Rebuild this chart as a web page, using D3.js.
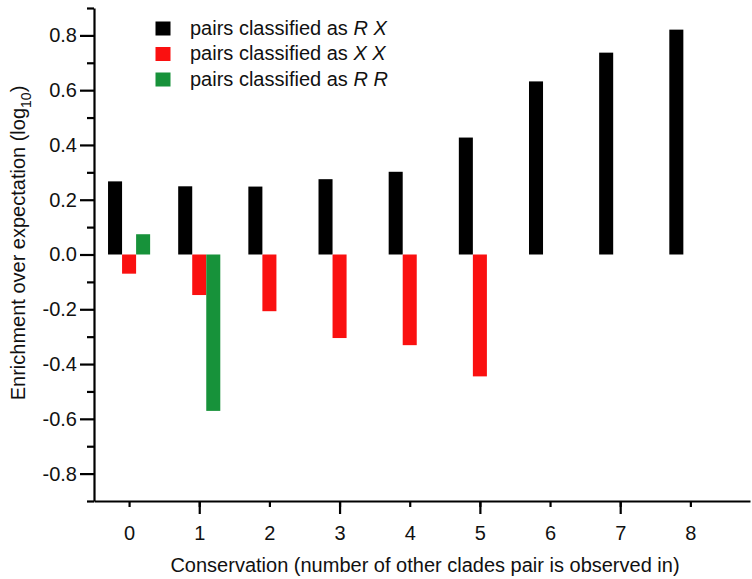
<!DOCTYPE html>
<html>
<head>
<meta charset="utf-8">
<script src="https://cdn.jsdelivr.net/npm/d3@7"></script>
<style>
  html, body { margin: 0; padding: 0; background: #fff; }
  svg { display: block; font-family: "Liberation Sans", Arial, sans-serif; }
</style>
</head>
<body>
<svg id="chart" width="752" height="579"></svg>
<script>
// Conservation level (number of other clades in which a pair is observed)
const categories = [0, 1, 2, 3, 4, 5, 6, 7, 8];
// Enrichment over expectation (log10) per pair class
const rxValues = [0.267, 0.249, 0.248, 0.275, 0.302, 0.427, 0.632, 0.737, 0.821];
const xxValues = [-0.070, -0.148, -0.207, -0.305, -0.331, -0.445];
const rrValues = [0.074, -0.571];
const yMajorTicks = [-0.8, -0.6, -0.4, -0.2, 0.0, 0.2, 0.4, 0.6, 0.8];
const yMinorTicks = [-0.9, -0.7, -0.5, -0.3, -0.1, 0.1, 0.3, 0.5, 0.7, 0.9];
const xLongTicks = [1, 3, 5, 7];

const series = [
  { key: "RX", values: rxValues, offset: -0.2, color: "#000000", label: "R X" },
  { key: "XX", values: xxValues, offset: 0.0, color: "#fa1010", label: "X X" },
  { key: "RR", values: rrValues, offset: 0.2, color: "#17923a", label: "R R" }
];

const svg = d3.select("#chart");
const plotLeft = 94, plotRight = 750, plotTop = 8, plotBottom = 501;
const fontSize = 20;

const x = d3.scaleLinear().domain([-0.5, 8.85]).range([plotLeft, plotRight]);
const y = d3.scaleLinear().domain([-0.9, 0.9]).range([plotBottom, plotTop]);
const barW = x(0.2) - x(0);

// Bars, one group per pair class
series.forEach(s => {
  svg.append("g").selectAll("rect")
    .data(s.values.map((v, i) => ({ c: categories[i], v })))
    .join("rect")
    .attr("x", d => x(d.c + s.offset) - barW / 2)
    .attr("width", barW)
    .attr("y", d => y(Math.max(0, d.v)))
    .attr("height", d => Math.abs(y(d.v) - y(0)))
    .attr("fill", s.color);
});

// Y axis: labelled major ticks plus shorter minor ticks (plain hyphen for negatives)
const fmtY = d => d3.format(".1f")(d).replace("\u2212", "-");
svg.append("g").attr("transform", `translate(${plotLeft},0)`)
  .call(d3.axisLeft(y).tickValues(yMajorTicks).tickSize(14).tickSizeOuter(0).tickPadding(3)
    .tickFormat(fmtY));
svg.append("g").attr("transform", `translate(${plotLeft},0)`)
  .call(d3.axisLeft(y).tickValues(yMinorTicks).tickSize(7).tickSizeOuter(0).tickFormat(""))
  .select(".domain").remove();

// X axis: all categories labelled, odd ones with longer ticks
svg.append("g").attr("transform", `translate(0,${plotBottom})`)
  .call(d3.axisBottom(x).tickValues(categories).tickSize(6).tickSizeOuter(0).tickPadding(19)
    .tickFormat(d3.format("d")));
svg.append("g").attr("transform", `translate(0,${plotBottom})`)
  .call(d3.axisBottom(x).tickValues(xLongTicks).tickSize(13).tickSizeOuter(0).tickFormat(""))
  .select(".domain").remove();

svg.selectAll(".domain, .tick line").attr("stroke", "#000").attr("stroke-width", 2.2);
svg.selectAll(".tick text").attr("font-size", fontSize).attr("fill", "#111")
  .attr("font-family", "'Liberation Sans', Arial, sans-serif");

// Axis titles
const yTitle = svg.append("text")
  .attr("transform", "translate(24.5,243) rotate(-90)")
  .attr("text-anchor", "middle")
  .attr("font-size", fontSize).attr("fill", "#111");
yTitle.append("tspan").text("Enrichment over expectation (log");
yTitle.append("tspan").text("10").attr("font-size", 14).attr("dy", 6);
yTitle.append("tspan").text(")").attr("dy", -6);

svg.append("text")
  .attr("x", 425).attr("y", 572)
  .attr("text-anchor", "middle")
  .attr("font-size", fontSize).attr("fill", "#111")
  .text("Conservation (number of other clades pair is observed in)");

// Legend
const legend = svg.append("g");
series.forEach((s, i) => {
  const cy = 28.5 + i * 25.5;
  legend.append("rect")
    .attr("x", 155.5).attr("y", cy - 7)
    .attr("width", 15).attr("height", 14)
    .attr("fill", s.color);
  const t = legend.append("text")
    .attr("x", 190).attr("y", cy + 6)
    .attr("font-size", fontSize).attr("fill", "#111");
  t.append("tspan").text("pairs classified as ");
  t.append("tspan").text(s.label).attr("font-style", "italic");
});
</script>
</body>
</html>
